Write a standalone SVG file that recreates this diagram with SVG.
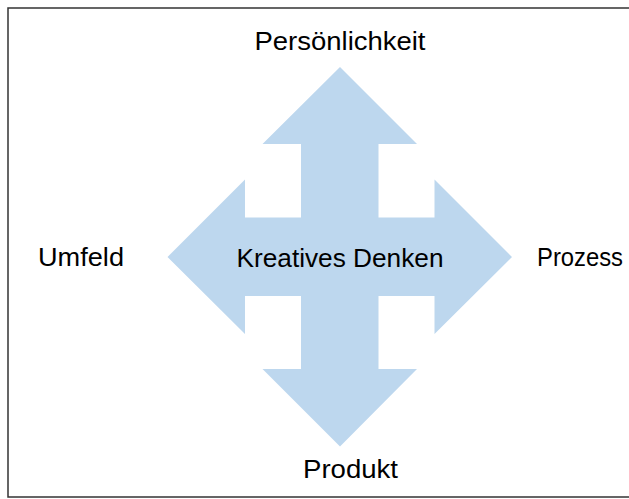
<svg xmlns="http://www.w3.org/2000/svg" width="629" height="499" viewBox="0 0 629 499">
<style>
.lbl{font-family:"Liberation Sans",Arial,sans-serif;font-size:26px;fill:#000;text-anchor:middle}
.arrow{fill:#BDD7EE;stroke:none}
</style>
<rect x="0" y="0" width="629" height="499" fill="#fff"/>
<rect x="8" y="8" width="630" height="489" fill="none" stroke="#333" stroke-width="1.5"/>
<g id="connectors">
<path class="arrow" d="M340,67 L417,144 L378.5,144 L378.5,217.5 L434.5,217.5 L434.5,179.5 L512,257 L434.5,334 L434.5,296 L378.5,296 L378.5,369 L417,369 L340,446.5 L262.5,369 L301,369 L301,296 L245,296 L245,334 L167.5,257 L245,179.5 L245,217.5 L301,217.5 L301,144 L262.5,144 Z"/>
</g>
<g id="center"><text class="lbl" x="340" y="267" textLength="207" lengthAdjust="spacingAndGlyphs">Kreatives Denken</text></g>
<g id="top"><text class="lbl" x="340" y="50" textLength="171" lengthAdjust="spacingAndGlyphs">Persönlichkeit</text></g>
<g id="bottom"><text class="lbl" x="350.5" y="478" textLength="95" lengthAdjust="spacingAndGlyphs">Produkt</text></g>
<g id="left"><text class="lbl" x="81" y="266" textLength="86" lengthAdjust="spacingAndGlyphs">Umfeld</text></g>
<g id="right"><text class="lbl" x="580" y="266" textLength="86" lengthAdjust="spacingAndGlyphs">Prozess</text></g>
</svg>
